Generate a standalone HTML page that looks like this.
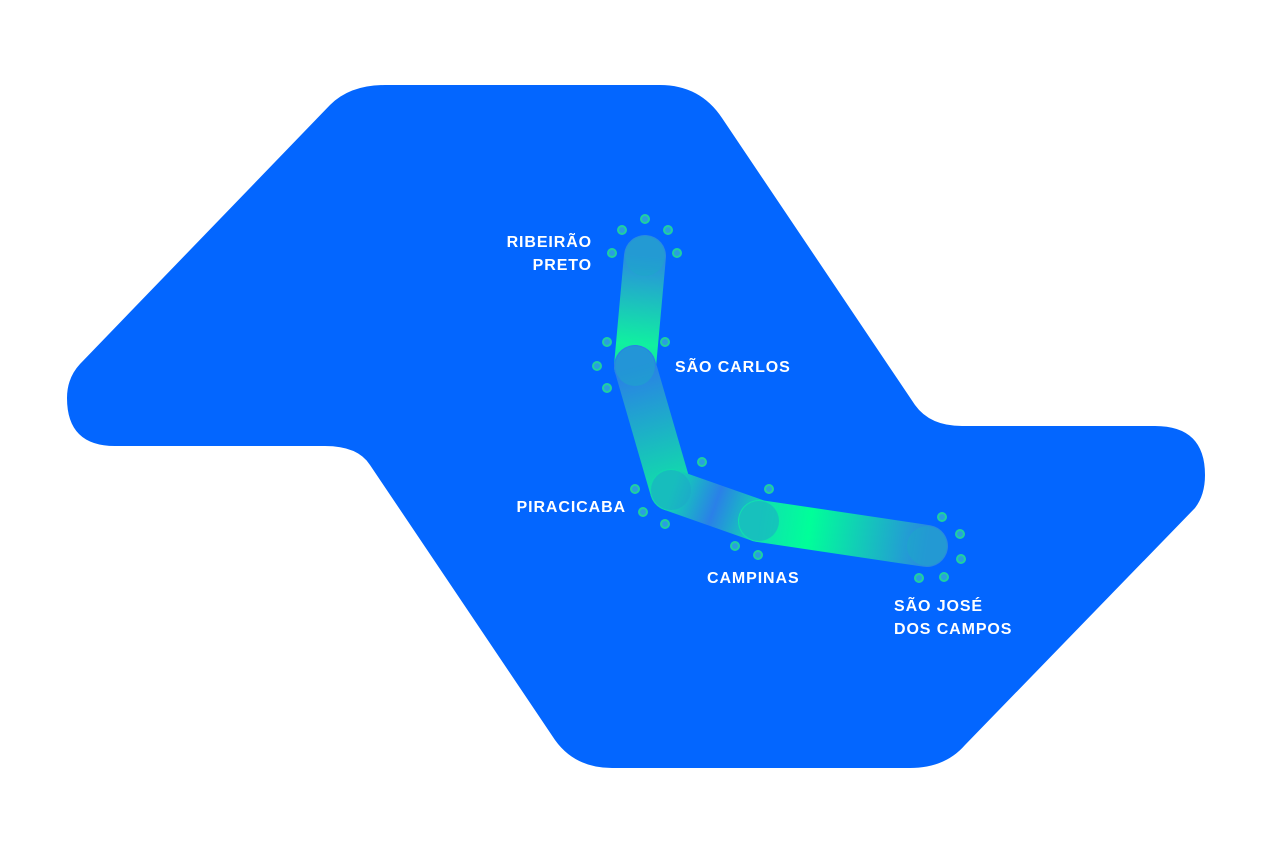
<!DOCTYPE html>
<html><head><style>
html,body{margin:0;padding:0;background:#fff;width:1264px;height:845px;overflow:hidden}
text{font-family:"Liberation Sans",sans-serif;font-weight:bold;font-size:16px;fill:#fff;letter-spacing:0.9px}
</style></head><body>
<svg width="1264" height="845" viewBox="0 0 1264 845">
<defs>
<linearGradient id="g1" gradientUnits="userSpaceOnUse" x1="645" y1="256" x2="635" y2="366"><stop offset="0" stop-color="#2a8be0"/><stop offset="0.8" stop-color="#10f0a0"/><stop offset="1" stop-color="#10e8a0"/></linearGradient>
<linearGradient id="g2" gradientUnits="userSpaceOnUse" x1="635" y1="366" x2="671" y2="490"><stop offset="0" stop-color="#2a7ee8"/><stop offset="1" stop-color="#10e0a8"/></linearGradient>
<linearGradient id="g3" gradientUnits="userSpaceOnUse" x1="671" y1="490" x2="759" y2="521"><stop offset="0" stop-color="#10d8b0"/><stop offset="0.5" stop-color="#2a80e8"/><stop offset="1" stop-color="#10d8b0"/></linearGradient>
<linearGradient id="g4" gradientUnits="userSpaceOnUse" x1="759" y1="521" x2="927" y2="546"><stop offset="0" stop-color="#10e0b0"/><stop offset="0.3" stop-color="#00ff99"/><stop offset="1" stop-color="#2a88e0"/></linearGradient>
</defs>
<path d="M385 85 L660 85 Q700 85 722 118 L915 405 Q930 426 962 426 L1155 426 Q1205 426 1205 475 Q1205 495 1195 508 L965 745 Q945 768 910 768 L612 768 Q575 768 555 740 L370 465 Q358 446 325 446 L115 446 Q67 446 67 398 Q67 378 80 364 L330 105 Q350 85 385 85 Z" fill="#0366ff"/>
<g stroke-linecap="round" stroke-width="42" fill="none">
<line x1="645" y1="256" x2="635" y2="366" stroke="url(#g1)"/>
<line x1="635" y1="366" x2="671" y2="490" stroke="url(#g2)"/>
<line x1="671" y1="490" x2="759" y2="521" stroke="url(#g3)"/>
<line x1="759" y1="521" x2="927" y2="546" stroke="url(#g4)"/>
</g>
<g fill="#1ea8c8" fill-opacity="0.55">
<circle cx="645" cy="256" r="20"/><circle cx="635" cy="366" r="20"/><circle cx="671" cy="490" r="20"/><circle cx="759" cy="521" r="20"/><circle cx="927" cy="546" r="20"/>
</g>
<g fill="#2a9ee0" stroke="#1fd0a0" stroke-width="2">
<circle cx="622" cy="230" r="4"/><circle cx="645" cy="219" r="4"/><circle cx="668" cy="230" r="4"/><circle cx="612" cy="253" r="4"/><circle cx="677" cy="253" r="4"/>
<circle cx="607" cy="342" r="4"/><circle cx="597" cy="366" r="4"/><circle cx="607" cy="388" r="4"/><circle cx="665" cy="342" r="4"/>
<circle cx="702" cy="462" r="4"/><circle cx="635" cy="489" r="4"/><circle cx="643" cy="512" r="4"/><circle cx="665" cy="524" r="4"/>
<circle cx="769" cy="489" r="4"/><circle cx="735" cy="546" r="4"/><circle cx="758" cy="555" r="4"/>
<circle cx="942" cy="517" r="4"/><circle cx="960" cy="534" r="4"/><circle cx="961" cy="559" r="4"/><circle cx="919" cy="578" r="4"/><circle cx="944" cy="577" r="4"/>
</g>
<text x="592" y="247" text-anchor="end">RIBEIRÃO</text>
<text x="592" y="270" text-anchor="end">PRETO</text>
<text x="675" y="372">SÃO CARLOS</text>
<text x="626" y="512" text-anchor="end">PIRACICABA</text>
<text x="707" y="583">CAMPINAS</text>
<text x="894" y="611">SÃO JOSÉ</text>
<text x="894" y="634">DOS CAMPOS</text>
</svg>
</body></html>
